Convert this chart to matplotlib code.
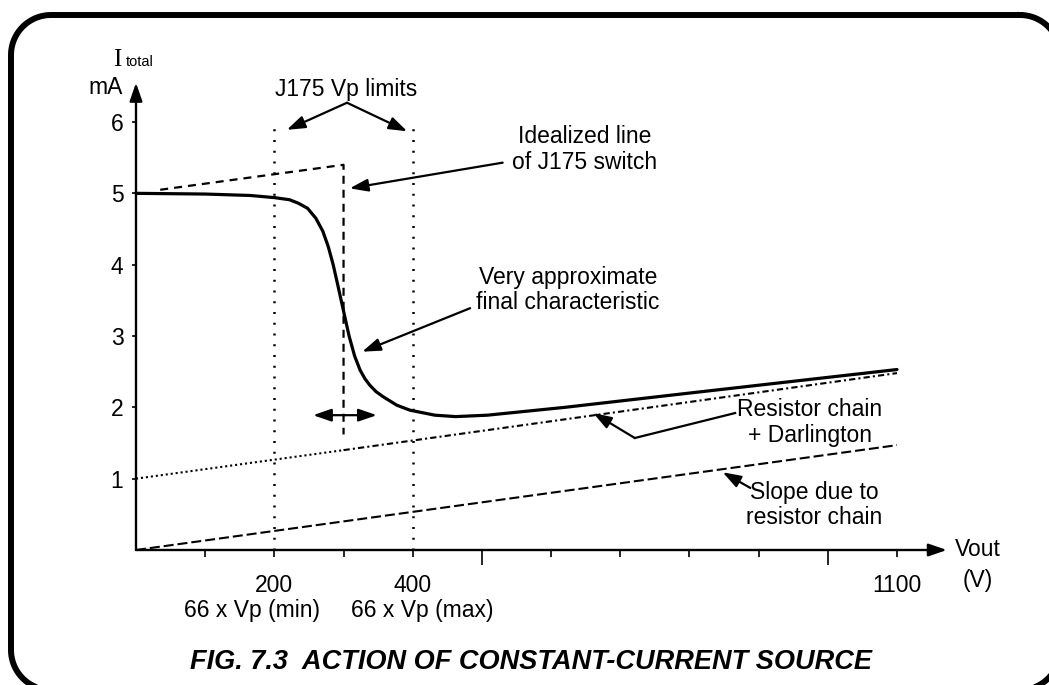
import numpy as np
import matplotlib
matplotlib.use("Agg")
import matplotlib.pyplot as plt

plt.rcParams['font.family'] = ['Liberation Sans', 'DejaVu Sans']
plt.rcParams['savefig.bbox'] = 'standard'

# Final (very approximate) characteristic of the constant-current source
vout_final = [0, 100, 165, 200, 222, 235, 248, 260, 270, 278, 285, 292, 300,
              308, 316, 324, 331, 338, 347, 357, 377, 396, 432, 462, 508, 620,
              800, 1100]
itotal_final = [5.0, 4.99, 4.97, 4.94, 4.91, 4.86, 4.79, 4.65, 4.47, 4.25, 4.0,
                3.7, 3.35, 3.0, 2.72, 2.52, 2.40, 2.31, 2.22, 2.15, 2.03, 1.96,
                1.89, 1.87, 1.89, 2.0, 2.2, 2.53]

# Idealized line of the J175 switch
vout_ideal = [35, 300, 300]
itotal_ideal = [5.05, 5.40, 1.62]

# Slope due to the resistor chain alone
vout_chain = [0, 1100]
itotal_chain = [0.0, 1.47]

# Resistor chain + Darlington (dotted up to the switch point, dash-dot after)
vout_chain_darl = [0, 300, 1100]
itotal_chain_darl = [1.0, 1.40, 2.48]

# J175 pinch-off voltage limits (66 x Vp)
vp_limits = [200, 400]
vp_limit_names = ['66 x Vp (min)', '66 x Vp (max)']
vp_limit_top = 5.95

ytick_values = [1, 2, 3, 4, 5, 6]
xtick_long = [500, 1000]
xtick_short = [100, 200, 300, 400, 600, 700, 800, 900, 1100]
xtick_text = {200: '200', 400: '400', 1100: '1100'}

W, H, DPI = 1049, 685, 100
fig = plt.figure(figsize=(W / DPI, H / DPI), dpi=DPI)
fig.patch.set_facecolor('white')

# background axes in pixel units (y downwards), used for the rounded frame
bg = fig.add_axes([0, 0, 1, 1])
bg.set_xlim(0, W)
bg.set_ylim(H, 0)
bg.axis('off')


def rounded_frame(left, top, right, bottom, r, n=24):
    """Closed outline of a rectangle with circular corners, in pixel units."""
    pts = []
    corners = [(right - r, top + r, -90, 0), (right - r, bottom - r, 0, 90),
               (left + r, bottom - r, 90, 180), (left + r, top + r, 180, 270)]
    for cx, cy, a0, a1 in corners:
        a = np.radians(np.linspace(a0, a1, n))
        pts.extend(zip(cx + r * np.cos(a), cy + r * np.sin(a)))
    pts.append(pts[0])
    return np.array(pts)


outline = rounded_frame(11, 15, 1060, 690, 40)
bg.plot(outline[:, 0], outline[:, 1], color='black', lw=4.3,
        solid_joinstyle='round')

# axes placed so that 0..1100 V and 0..6 mA land inside the frame
x0_px, x1_px = 136, 897
y0_px, y1_px = 550, 122
ax = fig.add_axes([x0_px / W, 1 - y0_px / H, (x1_px - x0_px) / W, (y0_px - y1_px) / H])
ax.set_xlim(0, 1100)
ax.set_ylim(0, 6)
for s in ax.spines.values():
    s.set_visible(False)
ax.patch.set_alpha(0)

FS = 16.5

# ticks
ax.set_yticks(ytick_values)
ax.tick_params(axis='y', direction='out', length=3, width=1.2, pad=6, labelsize=FS)
ax.set_xticks(xtick_long, labels=['' for _ in xtick_long])
ax.set_xticks(xtick_short, labels=[xtick_text.get(v, '') for v in xtick_short], minor=True)
ax.tick_params(axis='x', which='major', direction='out', length=11, width=1.2)
ax.tick_params(axis='x', which='minor', direction='out', length=5, width=1.2,
               pad=12, labelsize=FS)

# second line under the 200 / 400 labels
for v, name, dx in zip(vp_limits, vp_limit_names, [-22, 10]):
    ax.annotate(name, xy=(v, 0), xycoords='data', xytext=(dx, -60),
                textcoords='offset pixels', fontsize=FS, ha='center', va='center',
                annotation_clip=False)


def arrow(start, end, lw=1.6, style='-|>'):
    ax.annotate('', xy=end, xytext=start, xycoords='data', textcoords='data',
                annotation_clip=False,
                arrowprops=dict(arrowstyle=f'{style},head_length=1.1,head_width=0.38',
                                mutation_scale=10, lw=lw, color='black',
                                shrinkA=0, shrinkB=0))


# axes with arrow heads
arrow((0, 0), (1172, 0), lw=1.7)
arrow((0, 0), (0, 6.55), lw=1.7)

# curves
ax.plot(vout_chain_darl[:2], itotal_chain_darl[:2], color='black', lw=1.5,
        linestyle=(0, (1, 1.4)), clip_on=False)
ax.plot(vout_chain_darl[1:], itotal_chain_darl[1:], color='black', lw=1.5,
        linestyle=(0, (3, 1.5, 1, 1.5)), clip_on=False)
ax.plot(vout_chain, itotal_chain, color='black', lw=1.5,
        linestyle=(0, (4.8, 1.9)), clip_on=False)
ax.plot(vout_ideal, itotal_ideal, color='black', lw=1.6,
        linestyle=(0, (3.6, 2.7)), clip_on=False)
for v in vp_limits:
    ax.plot([v, v], [0, vp_limit_top], color='black', lw=1.8,
            linestyle=(0, (0.8, 3.5)), clip_on=False)
ax.plot(vout_final, itotal_final, color='black', lw=2.3,
        solid_joinstyle='round', solid_capstyle='round', clip_on=False)

# annotations
ax.text(304, 6.45, 'J175 Vp limits', fontsize=FS, ha='center', va='center')
arrow((305, 6.27), (218, 5.89))
arrow((305, 6.27), (392, 5.87))

ax.text(648, 5.61, 'Idealized line\nof J175 switch', fontsize=FS,
        ha='center', va='center', linespacing=1.15)
arrow((530, 5.43), (309, 5.07))

ax.text(624, 3.65, 'Very approximate\nfinal characteristic', fontsize=FS,
        ha='center', va='center', linespacing=1.1)
arrow((483, 3.39), (327, 2.78))

arrow((302, 1.89), (256, 1.89))
arrow((302, 1.89), (348, 1.89))

ax.text(974, 1.79, 'Resistor chain\n+ Darlington', fontsize=FS,
        ha='center', va='center', linespacing=1.15)
ax.plot([866, 721], [1.92, 1.57], color='black', lw=1.6, clip_on=False)
arrow((721, 1.57), (661, 1.92))

ax.text(980, 0.63, 'Slope due to\nresistor chain', fontsize=FS,
        ha='center', va='center', linespacing=1.15)
arrow((888, 0.87), (848, 1.09))

# axis titles
fig.text(117 / W, 1 - 60 / H, 'I', family=['Liberation Serif', 'DejaVu Serif'],
         fontsize=18, ha='center', va='center')
fig.text(126 / W, 1 - 62 / H, 'total', fontsize=10.5, ha='left', va='center')
fig.text(123 / W, 1 - 88 / H, 'mA', fontsize=FS, ha='right', va='center')
fig.text(955 / W, 1 - 550 / H, 'Vout', fontsize=FS, ha='left', va='center')
fig.text(978 / W, 1 - 580 / H, '(V)', fontsize=FS, ha='center', va='center')

# caption
fig.text(531 / W, 1 - 662 / H, 'FIG. 7.3  ACTION OF CONSTANT-CURRENT SOURCE',
         fontsize=19.5, fontweight='bold', style='italic', ha='center', va='center')

fig.savefig('out.png', dpi=DPI, facecolor='white')
